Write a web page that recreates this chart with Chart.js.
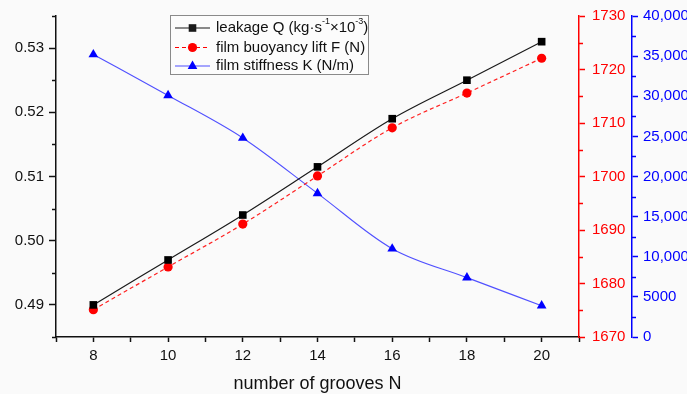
<!DOCTYPE html>
<html>
<head>
<meta charset="utf-8">
<script src="https://cdn.jsdelivr.net/npm/chart.js@4.4.0/dist/chart.umd.min.js"></script>
<style>
  html, body { margin: 0; padding: 0; background: #fafafa; }
  #wrap { width: 687px; height: 394px; position: relative; }
</style>
</head>
<body>
<div id="wrap"><canvas id="grooveChart"></canvas></div>
<script>
  /************************************************
   *  DATA
   ************************************************/
  const grooves = [8, 10, 12, 14, 16, 18, 20];
  const leakageQ = [0.490, 0.497, 0.504, 0.5115, 0.519, 0.525, 0.531];
  const buoyancyLift = [1675.1, 1683.1, 1691.1, 1700.1, 1709.1, 1715.6, 1722.1];
  const filmStiffness = [35200, 30100, 24800, 17900, 11000, 7400, 3900];

  // tick values / labels
  const nTicks = [7, 8, 9, 10, 11, 12, 13, 14, 15, 16, 17, 18, 19, 20, 21];
  const nTickLabels = ['', '8', '', '10', '', '12', '', '14', '', '16', '', '18', '', '20', ''];
  const qTicks = [0.49, 0.50, 0.51, 0.52, 0.53];
  const qTickLabels = ['0.49', '0.50', '0.51', '0.52', '0.53'];
  const fTicks = [1670, 1680, 1690, 1700, 1710, 1720, 1730];
  const fTickLabels = ['1670', '1680', '1690', '1700', '1710', '1720', '1730'];
  const kTicks = [0, 5000, 10000, 15000, 20000, 25000, 30000, 35000, 40000];
  const kTickLabels = ['0', '5000', '10,000', '15,000', '20,000', '25,000', '30,000', '35,000', '40,000'];

  const FONT = '"Liberation Sans", Arial, sans-serif';
  Chart.defaults.font.family = FONT;
  Chart.defaults.font.size = 15;

  const toPoints = (ys) => grooves.map((n, i) => ({ x: n, y: ys[i] }));

  /************************************************
   *  MINOR TICKS (drawn through the scales)
   ************************************************/
  const minorSteps = { yQ: 0.005, yF: 5, yK: 2500 };

  const minorTicksPlugin = {
    id: 'minorTicks',
    afterDraw(chart) {
      const ctx = chart.ctx;
      Object.keys(minorSteps).forEach((id) => {
        const s = chart.scales[id];
        const step = minorSteps[id];
        const majors = s.ticks.map((t) => t.value);
        ctx.save();
        ctx.strokeStyle = s.options.border.color;
        ctx.lineWidth = 1.5;
        for (let v = s.min; v <= s.max + step / 10; v += step) {
          if (majors.some((m) => Math.abs(m - v) < step / 10)) continue;
          const y = Math.round(s.getPixelForValue(v)) + 0.5;
          const x0 = s.position === 'left' ? s.right : s.left;
          const x1 = s.position === 'left' ? s.right - 4 : s.left + 4;
          ctx.beginPath();
          ctx.moveTo(x0, y);
          ctx.lineTo(x1, y);
          ctx.stroke();
        }
        ctx.restore();
      });
    }
  };

  /************************************************
   *  LEGEND (custom, for the superscripts)
   ************************************************/
  const legendRows = [
    { color: '#1a1a1a', marker: 'rect', dash: [], parts: [
      { t: 'leakage Q (kg·s' }, { t: '-1', sup: true }, { t: '×10' }, { t: '-3', sup: true }, { t: ')' }] },
    { color: '#ff0000', marker: 'circle', dash: [4, 3], parts: [{ t: 'film buoyancy lift F (N)' }] },
    { color: '#0000ff', line: '#5050ff', marker: 'triangle', dash: [], parts: [{ t: 'film stiffness K (N/m)' }] }
  ];

  function drawMarker(ctx, kind, x, y, color) {
    ctx.fillStyle = color;
    ctx.beginPath();
    if (kind === 'rect') {
      ctx.rect(x - 3.8, y - 3.8, 7.6, 7.6);
    } else if (kind === 'circle') {
      ctx.arc(x, y, 4.6, 0, Math.PI * 2);
    } else {
      ctx.moveTo(x, y - 5.4);
      ctx.lineTo(x + 4.8, y + 3);
      ctx.lineTo(x - 4.8, y + 3);
      ctx.closePath();
    }
    ctx.fill();
  }

  const legendPlugin = {
    id: 'richLegend',
    afterDraw(chart) {
      const ctx = chart.ctx;
      ctx.save();
      ctx.fillStyle = 'rgba(252,252,252,0.9)';
      ctx.fillRect(170.5, 15.5, 198, 59);
      ctx.strokeStyle = '#8a8a8a';
      ctx.lineWidth = 1;
      ctx.strokeRect(170.5, 15.5, 198, 59);
      const rowY = [28, 47.5, 66];
      legendRows.forEach((row, i) => {
        const y = rowY[i];
        ctx.strokeStyle = row.line || row.color;
        ctx.lineWidth = 1.2;
        ctx.setLineDash(row.dash);
        ctx.beginPath();
        ctx.moveTo(175, y);
        ctx.lineTo(210, y);
        ctx.stroke();
        ctx.setLineDash([]);
        drawMarker(ctx, row.marker, 192.5, y, row.color);
        let x = 216;
        ctx.fillStyle = '#111';
        ctx.textBaseline = 'middle';
        ctx.textAlign = 'left';
        row.parts.forEach((p) => {
          ctx.font = (p.sup ? '9px ' : '15px ') + FONT;
          ctx.fillText(p.t, x, p.sup ? y - 6 : y);
          x += ctx.measureText(p.t).width;
        });
      });
      ctx.restore();
    }
  };

  /************************************************
   *  CHART
   ************************************************/
  const axisCommon = (color, tickLen) => ({
    border: { display: true, color: color, width: 1.5 },
    grid: { display: true, drawOnChartArea: false, drawTicks: true, tickLength: tickLen, tickColor: color, tickWidth: 1.5 }
  });

  const ctx = document.getElementById('grooveChart').getContext('2d');
  new Chart(ctx, {
    type: 'line',
    data: {
      datasets: [
        {
          label: 'leakage Q',
          data: toPoints(leakageQ),
          yAxisID: 'yQ',
          borderColor: '#1a1a1a',
          borderWidth: 1.2,
          pointStyle: 'rect',
          pointRadius: 5.4,
          pointBackgroundColor: '#000',
          pointBorderWidth: 0,
          cubicInterpolationMode: 'monotone'
        },
        {
          label: 'film buoyancy lift F (N)',
          data: toPoints(buoyancyLift),
          yAxisID: 'yF',
          borderColor: '#ff2020',
          borderWidth: 1.2,
          borderDash: [4, 3],
          pointStyle: 'circle',
          pointRadius: 4.6,
          pointBackgroundColor: '#ff0000',
          pointBorderWidth: 0,
          cubicInterpolationMode: 'monotone'
        },
        {
          label: 'film stiffness K (N/m)',
          data: toPoints(filmStiffness),
          yAxisID: 'yK',
          borderColor: '#5050ff',
          borderWidth: 1.1,
          pointStyle: 'triangle',
          pointRadius: 5.6,
          pointBackgroundColor: '#0000ff',
          pointBorderWidth: 0,
          cubicInterpolationMode: 'monotone'
        }
      ]
    },
    options: {
      responsive: true,
      maintainAspectRatio: false,
      animation: false,
      layout: { padding: { top: 16, left: 0, right: 0, bottom: 0 } },
      plugins: { legend: { display: false }, tooltip: { enabled: false } },
      scales: {
        x: {
          type: 'linear',
          min: 7,
          max: 21,
          ...axisCommon('#111', 5),
          afterBuildTicks: (s) => { s.ticks = nTicks.map((v) => ({ value: v })); },
          afterFit: (s) => { s.height = 57; },
          ticks: {
            color: '#111',
            padding: 5,
            autoSkip: false,
            maxRotation: 0,
            callback: (v, i) => nTickLabels[i]
          },
          title: {
            display: true,
            text: 'number of grooves N',
            color: '#111',
            font: { size: 18 },
            padding: { top: 0, bottom: -1 }
          }
        },
        yQ: {
          type: 'linear',
          position: 'left',
          min: 0.485,
          max: 0.535,
          ...axisCommon('#111', 7),
          afterBuildTicks: (s) => { s.ticks = qTicks.map((v) => ({ value: v })); },
          afterFit: (s) => { s.width = 56; },
          ticks: { color: '#111', padding: 5, callback: (v, i) => qTickLabels[i] }
        },
        yF: {
          type: 'linear',
          position: 'right',
          weight: 0,
          min: 1670,
          max: 1730,
          ...axisCommon('#ff0000', 6),
          afterBuildTicks: (s) => { s.ticks = fTicks.map((v) => ({ value: v })); },
          afterFit: (s) => { s.width = 53; },
          ticks: { color: '#ff0000', padding: 7, callback: (v, i) => fTickLabels[i] }
        },
        yK: {
          type: 'linear',
          position: 'right',
          weight: 1,
          min: 0,
          max: 40000,
          ...axisCommon('#0000ff', 6),
          afterBuildTicks: (s) => { s.ticks = kTicks.map((v) => ({ value: v })); },
          afterFit: (s) => { s.width = 55; },
          ticks: { color: '#0000ff', padding: 5, callback: (v, i) => kTickLabels[i] }
        }
      }
    },
    plugins: [minorTicksPlugin, legendPlugin]
  });
</script>
</body>
</html>
